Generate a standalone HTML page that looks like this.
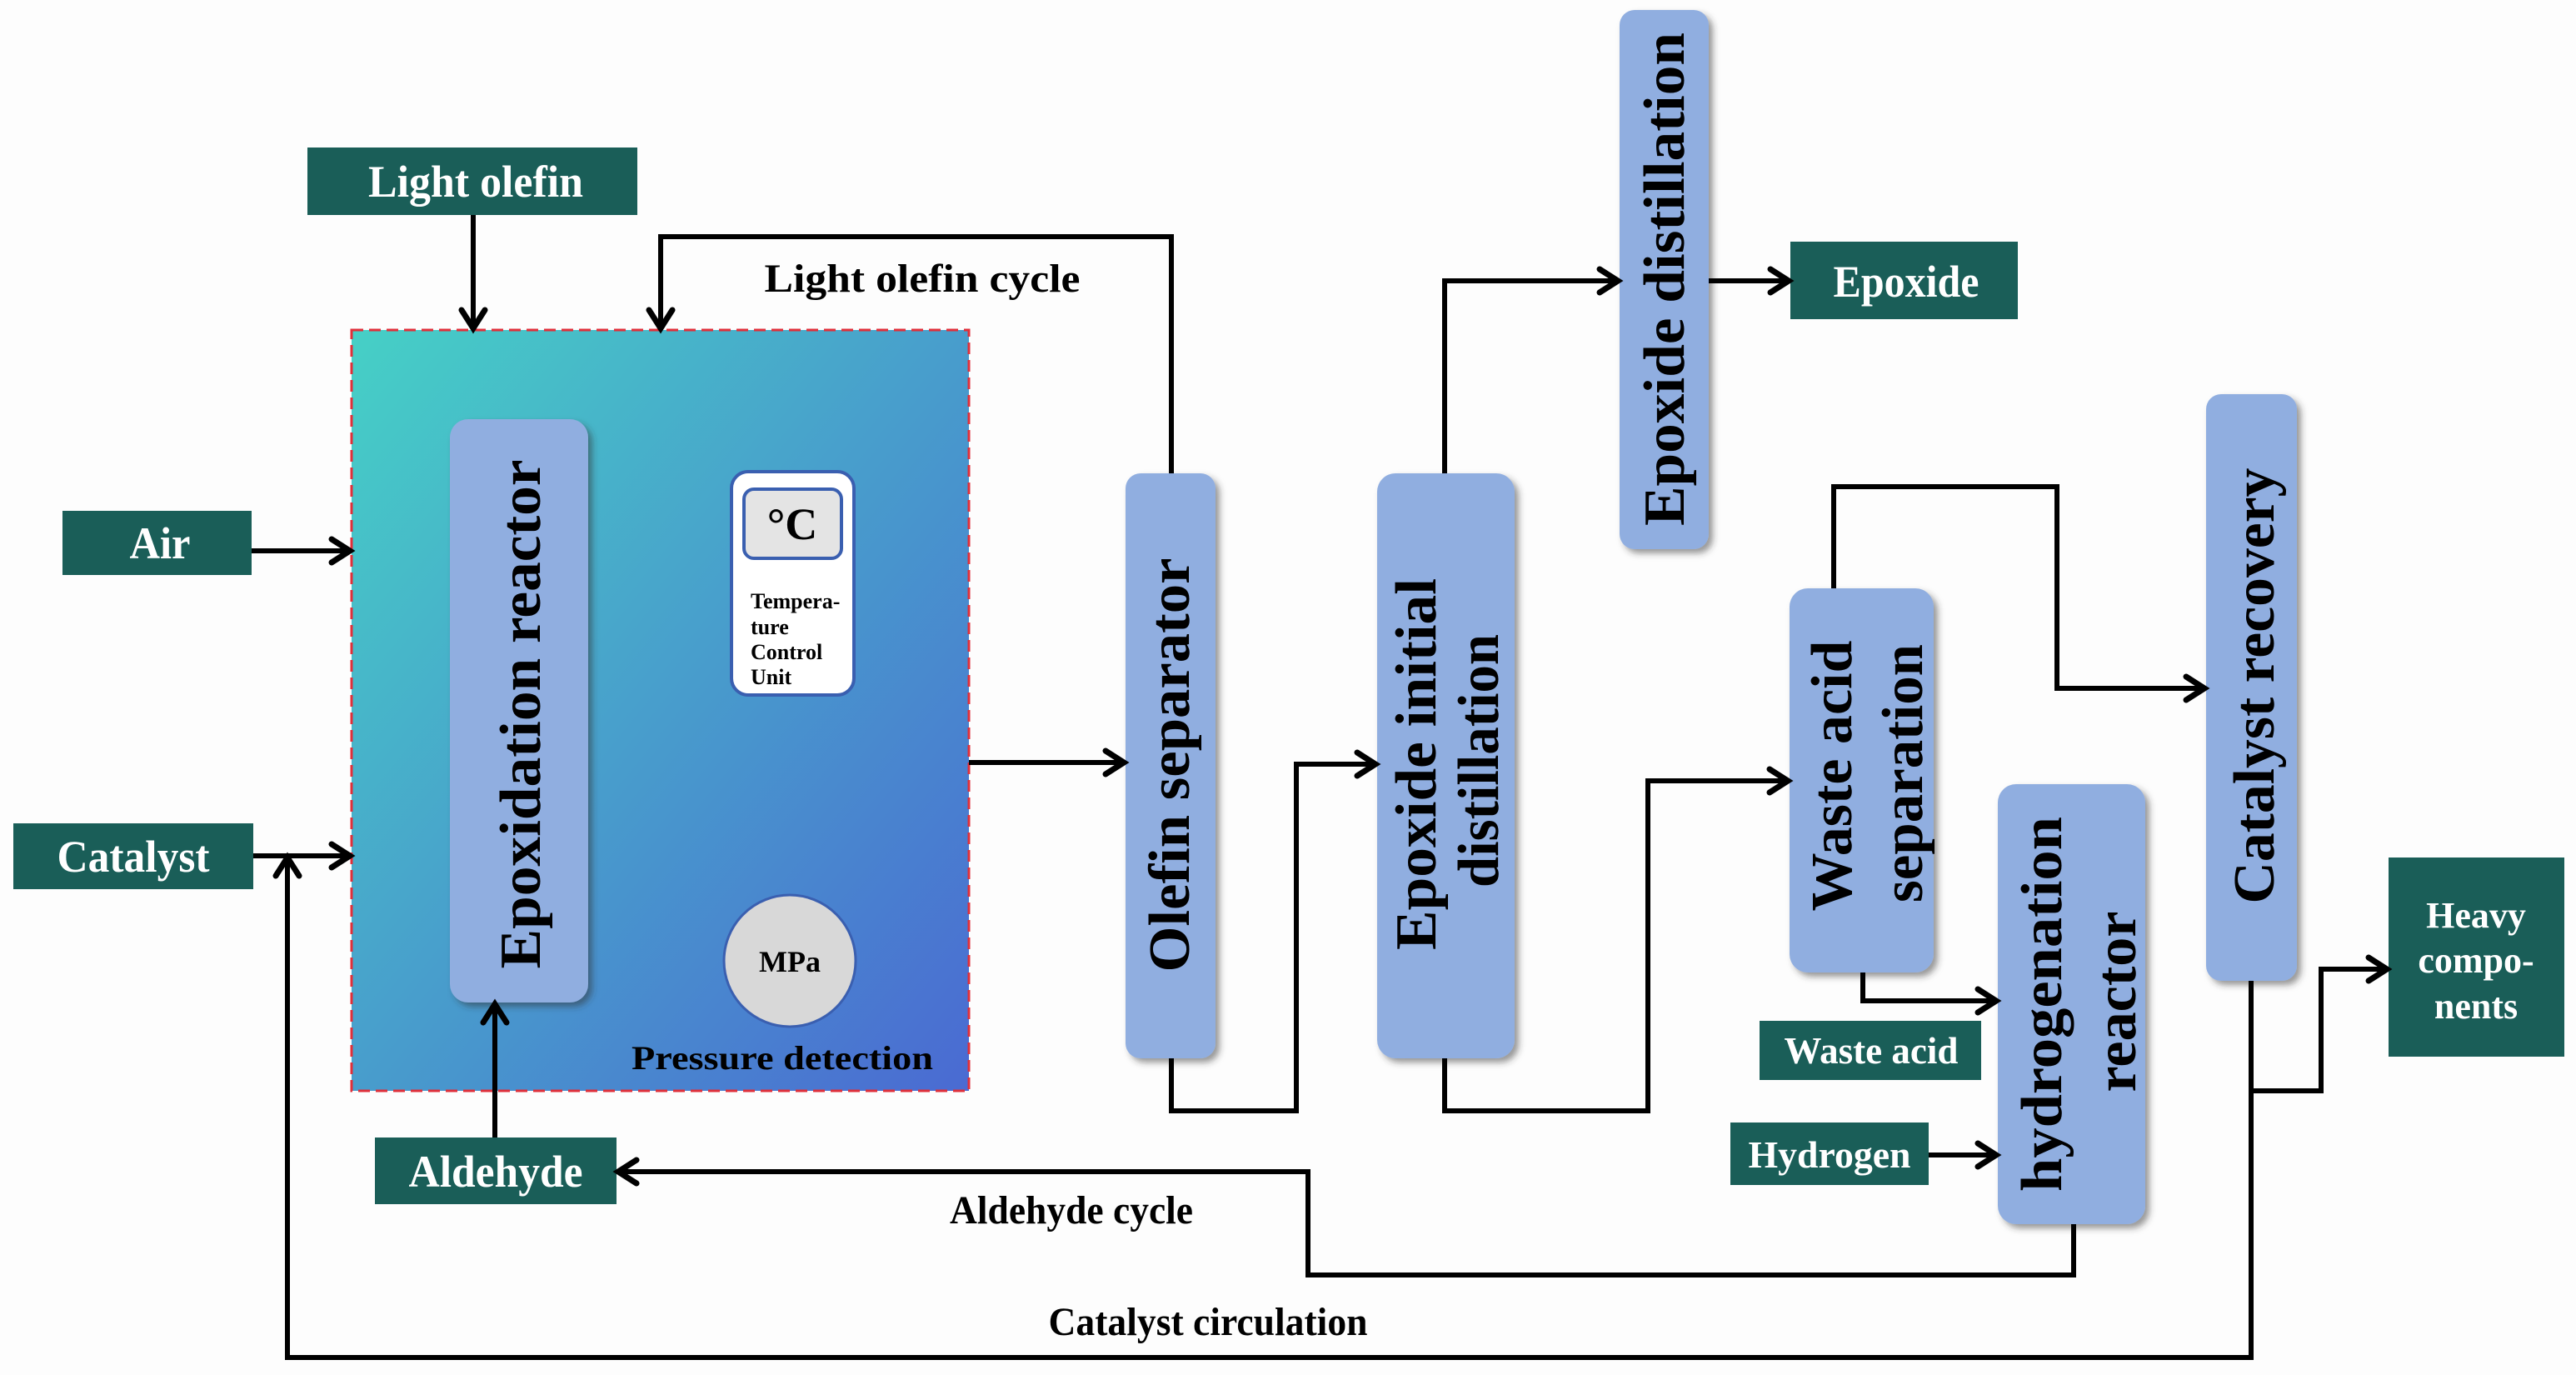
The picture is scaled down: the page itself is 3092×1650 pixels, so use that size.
<!DOCTYPE html>
<html><head><meta charset="utf-8"><style>
html,body{margin:0;padding:0;background:#fdfdfd}
svg{display:block}
text{font-family:"Liberation Serif",serif;font-weight:bold}
</style></head><body>
<svg width="3092" height="1650" viewBox="0 0 3092 1650" xmlns="http://www.w3.org/2000/svg">
<defs>
<linearGradient id="g" x1="0" y1="0" x2="1" y2="1">
<stop offset="0" stop-color="#46d0c6"/><stop offset="1" stop-color="#4a6ad2"/>
</linearGradient>
<filter id="sh" x="-20%" y="-10%" width="140%" height="120%"><feDropShadow dx="5" dy="5" stdDeviation="4" flood-color="#333" flood-opacity="0.5"/></filter>
</defs>
<rect width="3092" height="1650" fill="#fdfdfd"/>

<rect x="422" y="396" width="741" height="913" fill="url(#g)" stroke="#e0303a" stroke-width="3" stroke-dasharray="14,7"/>
<g fill="#90aee0" filter="url(#sh)">
<rect x="540" y="503" width="166" height="700" rx="22"/>
<rect x="1351" y="568" width="108" height="702" rx="18"/>
<rect x="1653" y="568" width="165" height="702" rx="22"/>
<rect x="1944" y="12" width="107" height="647" rx="18"/>
<rect x="2148" y="706" width="173" height="461" rx="22"/>
<rect x="2648" y="473" width="109" height="704" rx="18"/>
<rect x="2398" y="941" width="177" height="528" rx="22"/>
</g>
<rect x="878" y="566" width="147" height="268" rx="20" fill="#fff" stroke="#3a5fb0" stroke-width="4"/>
<rect x="893" y="587" width="117" height="83" rx="12" fill="#e4e4e4" stroke="#3a5fb0" stroke-width="4"/>
<text x="951" y="647" font-size="54" text-anchor="middle">°C</text>
<g font-size="26"><text x="901" y="730">Tempera-</text><text x="901" y="761">ture</text><text x="901" y="791">Control</text><text x="901" y="821">Unit</text></g>
<circle cx="948" cy="1153" r="79" fill="#d8d8d8" stroke="#3a5fb0" stroke-width="3"/>
<text x="948" y="1166" font-size="36" text-anchor="middle">MPa</text>
<text x="939" y="1283" font-size="40" text-anchor="middle" textLength="362" lengthAdjust="spacingAndGlyphs">Pressure detection</text>

<g fill="#1a5e58">
<rect x="369" y="177" width="396" height="81"/>
<rect x="75" y="613" width="227" height="77"/>
<rect x="16" y="988" width="288" height="79"/>
<rect x="450" y="1365" width="290" height="80"/>
<rect x="2149" y="290" width="273" height="93"/>
<rect x="2112" y="1225" width="266" height="71"/>
<rect x="2077" y="1347" width="238" height="75"/>
<rect x="2867" y="1029" width="211" height="239"/>
</g>
<g fill="#fff" text-anchor="middle" font-size="54" lengthAdjust="spacingAndGlyphs">
<text x="571" y="236" textLength="258" lengthAdjust="spacingAndGlyphs">Light olefin</text>
<text x="192" y="670" textLength="73" lengthAdjust="spacingAndGlyphs">Air</text>
<text x="160" y="1046" textLength="183" lengthAdjust="spacingAndGlyphs">Catalyst</text>
<text x="595" y="1424" textLength="209" lengthAdjust="spacingAndGlyphs">Aldehyde</text>
<text x="2288" y="356" textLength="175" lengthAdjust="spacingAndGlyphs">Epoxide</text>
<text x="2246" y="1276" font-size="46" textLength="209" lengthAdjust="spacingAndGlyphs">Waste acid</text>
<text x="2196" y="1401" font-size="46" textLength="195" lengthAdjust="spacingAndGlyphs">Hydrogen</text>
<g font-size="44"><text x="2972" y="1113">Heavy</text><text x="2972" y="1167">compo-</text><text x="2972" y="1222">nents</text></g>
</g>

<g font-size="70" text-anchor="middle" fill="#000">
<text transform="translate(648,857) rotate(-90)" textLength="611" lengthAdjust="spacingAndGlyphs">Epoxidation reactor</text>
<text transform="translate(1427,918) rotate(-90)" textLength="497" lengthAdjust="spacingAndGlyphs">Olefin separator</text>
<text transform="translate(1723,917) rotate(-90)" textLength="446" lengthAdjust="spacingAndGlyphs">Epoxide initial</text>
<text transform="translate(1798,913) rotate(-90)" textLength="304" lengthAdjust="spacingAndGlyphs">distillation</text>
<text transform="translate(2021,335) rotate(-90)" textLength="592" lengthAdjust="spacingAndGlyphs">Epoxide distillation</text>
<text transform="translate(2222,931) rotate(-90)" textLength="325" lengthAdjust="spacingAndGlyphs">Waste acid</text>
<text transform="translate(2307,928) rotate(-90)" textLength="310" lengthAdjust="spacingAndGlyphs">separation</text>
<text transform="translate(2474,1205) rotate(-90)" textLength="450" lengthAdjust="spacingAndGlyphs">hydrogenation</text>
<text transform="translate(2563,1202) rotate(-90)" textLength="217" lengthAdjust="spacingAndGlyphs">reactor</text>
<text transform="translate(2729,823) rotate(-90)" textLength="523" lengthAdjust="spacingAndGlyphs">Catalyst recovery</text>
</g>

<g font-size="48" fill="#000" text-anchor="middle">
<text x="1107" y="350" textLength="379" lengthAdjust="spacingAndGlyphs">Light olefin cycle</text>
<text x="1286" y="1468" textLength="292" lengthAdjust="spacingAndGlyphs">Aldehyde cycle</text>
<text x="1450" y="1602" textLength="383" lengthAdjust="spacingAndGlyphs">Catalyst circulation</text>
</g>

<g fill="none" stroke="#000" stroke-width="6">
<path d="M568,258 V394"/>
<path d="M1406,568 V284 H793 V394"/>
<path d="M302,661 H420"/>
<path d="M304,1027 H420"/>
<path d="M1163,915 H1349"/>
<path d="M1406,1270 V1333 H1556 V917 H1651"/>
<path d="M1734,568 V337 H1942"/>
<path d="M2051,337 H2147"/>
<path d="M1734,1270 V1333 H1978 V937 H2146"/>
<path d="M2201,706 V584 H2469 V826 H2646"/>
<path d="M2236,1167 V1201 H2396"/>
<path d="M2315,1386 H2396"/>
<path d="M2489,1469 V1530 H1570 V1406 H742"/>
<path d="M594,1365 V1205"/>
<path d="M2702,1177 V1629 H345 V1029"/>
<path d="M2702,1309 H2786 V1163 H2865"/>
</g>
<!-- arrowheads -->
<g fill="none" stroke="#000" stroke-width="7" stroke-linecap="round" stroke-linejoin="miter">
<path d="M554,372 L568,394 L582,372"/>
<path d="M779,372 L793,394 L807,372"/>
<path d="M398,647 L420,661 L398,675"/>
<path d="M398,1013 L420,1027 L398,1041"/>
<path d="M1327,901 L1349,915 L1327,929"/>
<path d="M1629,903 L1651,917 L1629,931"/>
<path d="M1920,323 L1942,337 L1920,351"/>
<path d="M2125,323 L2147,337 L2125,351"/>
<path d="M2124,923 L2146,937 L2124,951"/>
<path d="M2624,812 L2646,826 L2624,840"/>
<path d="M2374,1187 L2396,1201 L2374,1215"/>
<path d="M2374,1372 L2396,1386 L2374,1400"/>
<path d="M764,1392 L742,1406 L764,1420"/>
<path d="M580,1227 L594,1205 L608,1227"/>
<path d="M331,1051 L345,1029 L359,1051"/>
<path d="M2843,1149 L2865,1163 L2843,1177"/>
</g>
</svg>
</body></html>
